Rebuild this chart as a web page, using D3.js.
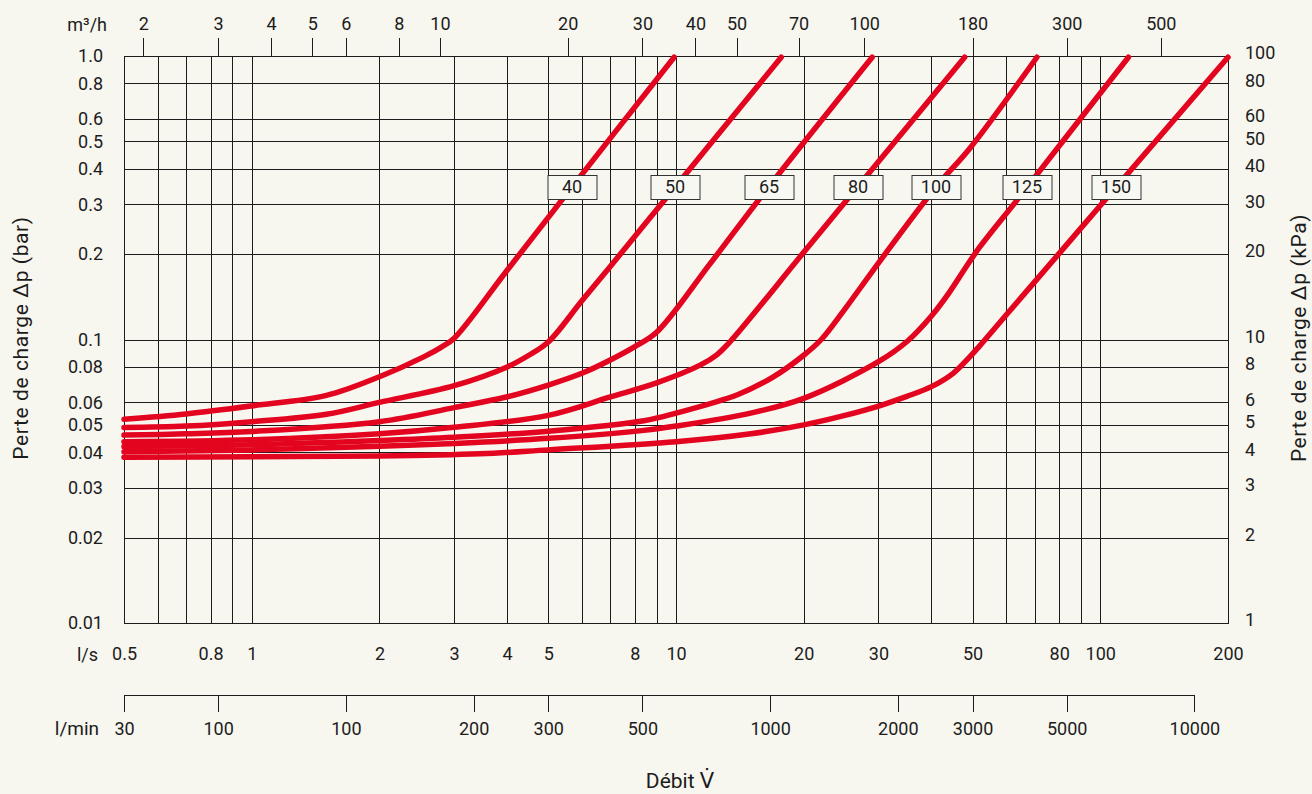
<!DOCTYPE html>
<html>
<head>
<meta charset="utf-8">
<script src="https://cdn.jsdelivr.net/npm/d3@7/dist/d3.min.js"></script>
<style>
	body{margin:0;background:#f7f6ef;}
	svg{display:block;}
	text{font-family:Roboto,"DejaVu Sans",sans-serif;font-weight:400;fill:#1c1c1c;}
</style>
</head>
<body>
<div id="chart"></div>
<script>
// flow l/s (bottom), pressure drop bar (left)
var lsTicks=[0.5,0.8,1,2,3,4,5,8,10,20,30,50,80,100,200];
var lsGrid=[0.6,0.7,0.8,0.9,1,2,3,4,5,6,7,8,9,10,20,30,40,50,60,70,80,90,100];
var barTicks=[1.0,0.8,0.6,0.5,0.4,0.3,0.2,0.1,0.08,0.06,0.05,0.04,0.03,0.02,0.01];
var barLabels=["1.0","0.8","0.6","0.5","0.4","0.3","0.2","0.1","0.08","0.06","0.05","0.04","0.03","0.02","0.01"];
var kpaLabels=["100","80","60","50","40","30","20","10","8","6","5","4","3","2","1"];
var m3hTicks=[2,3,4,5,6,8,10,20,30,40,50,70,100,180,300,500];
var lminTicks=[30,50,100,200,300,500,1000,2000,3000,5000,10000];
var lminLabels=["30","100","100","200","300","500","1000","2000","3000","5000","10000"];

// DN curves, [l/s, bar]
var dnNames=["40","50","65","80","100","125","150"];
var dn40=[[0.5,0.0523],[0.7,0.0546],[1,0.0583],[1.5,0.0635],[2,0.0739],[2.55,0.087],[2.8,0.094],[3.0,0.101],[4,0.1755],[5.66,0.342],[9.9,0.99]];
var dn50=[[0.5,0.0489],[0.7,0.0495],[1,0.0513],[1.5,0.0545],[2,0.06],[3,0.0687],[4,0.08],[4.5,0.088],[5,0.098],[6,0.137],[7,0.181],[9,0.287],[17.7,0.99]];
var dn65=[[0.5,0.046],[0.7,0.0465],[1,0.0474],[2,0.0513],[3,0.0575],[4,0.0628],[5,0.0691],[6,0.076],[7,0.0847],[8,0.0944],[9,0.106],[12,0.184],[16.4,0.34],[29,0.99]];
var dn80=[[0.5,0.0436],[1,0.0443],[2,0.0465],[3,0.049],[5,0.054],[7,0.0627],[9,0.0703],[11.4,0.0812],[12.5,0.0885],[13.4,0.098],[20,0.203],[27.08,0.352],[47.9,0.99]];
var dn100=[[0.5,0.0419],[1,0.0425],[2,0.044],[3,0.0452],[5,0.0475],[8.4,0.0517],[10,0.055],[14,0.064],[17,0.074],[20,0.088],[22,0.1],[25,0.128],[30,0.186],[41,0.345],[49.4,0.475],[70.9,0.99]];
var dn125=[[0.5,0.0402],[1,0.0408],[2,0.042],[3,0.043],[5,0.0448],[8.4,0.0478],[10,0.0495],[15,0.055],[20,0.062],[30,0.0835],[35.2,0.099],[40,0.121],[44,0.146],[48,0.178],[52,0.212],[63.5,0.309],[78.9,0.469],[116.5,0.99]];
var dn150=[[0.5,0.0384],[1,0.0386],[2,0.0388],[3.45,0.0395],[5,0.0408],[10,0.0436],[15,0.0465],[20,0.05],[25,0.054],[30.3,0.0585],[35,0.063],[40,0.0682],[45,0.076],[49.3,0.087],[51.8,0.0944],[60,0.122],[80.6,0.2038],[103.5,0.315],[200,0.99]];
var dnCurves=[dn40,dn50,dn65,dn80,dn100,dn125,dn150];
var labelBar=0.345;

var width=1312,height=794;
var pL=124,pR=1228,pT=56,pB=623;
var red="#e3051f";
var ink="#1c1c1c";

var svg=d3.select("#chart")
	.append("svg")
	.attr("width",width)
	.attr("height",height);

var x=d3.scaleLog().domain([0.5,200]).range([pL,pR]);
var y=d3.scaleLog().domain([0.01,1]).range([pB,pT]);
// same axes in other units
var xm3h=d3.scaleLog().domain([0.5*3.6,200*3.6]).range([pL,pR]);
var xlmin=d3.scaleLog().domain([0.5*60,200*60]).range([pL,pR]);
var ykpa=d3.scaleLog().domain([1,100]).range([pB,pT]);

//grid
var grid=svg.append("g")
	.attr("stroke",ink)
	.attr("stroke-width",1)
	.attr("shape-rendering","crispEdges");
grid.selectAll(".vg")
	.data(lsGrid)
	.enter()
	.append("line")
		.attr("class","vg")
		.attr("x1",function(d){return Math.round(x(d))+0.5;})
		.attr("x2",function(d){return Math.round(x(d))+0.5;})
		.attr("y1",pT)
		.attr("y2",pB);
grid.selectAll(".hg")
	.data(barTicks)
	.enter()
	.append("line")
		.attr("class","hg")
		.attr("x1",pL)
		.attr("x2",pR)
		.attr("y1",function(d){return Math.round(y(d))+0.5;})
		.attr("y2",function(d){return Math.round(y(d))+0.5;});
grid.append("rect")
	.attr("x",pL+0.5)
	.attr("y",pT+0.5)
	.attr("width",pR-pL)
	.attr("height",pB-pT)
	.attr("fill","none");

function styleAxis(g){
	g.attr("font-family",null).attr("font-size",18);
	g.selectAll("text").attr("fill",ink);
	g.selectAll("line").attr("stroke",ink).attr("shape-rendering","crispEdges");
}

//top axis m3/h
svg.append("g")
	.attr("transform","translate(0,"+pT+")")
	.call(d3.axisTop(xm3h).tickValues(m3hTicks).tickFormat(function(d){return d;}).tickSize(18).tickPadding(8))
	.call(styleAxis)
	.select(".domain").remove();
svg.append("text")
	.attr("x",107)
	.attr("y",31)
	.attr("text-anchor","end")
	.style("font-size","18px")
	.text("m³/h");

//left axis bar
svg.append("g")
	.attr("transform","translate("+pL+",0)")
	.call(d3.axisLeft(y).tickValues(barTicks).tickFormat(function(d,i){return barLabels[i];}).tickSize(0).tickPadding(21))
	.call(styleAxis)
	.select(".domain").remove();

//right axis kPa
svg.append("g")
	.attr("transform","translate("+pR+",-3)")
	.call(d3.axisRight(ykpa).tickValues(barTicks.map(function(d){return d*100;})).tickFormat(function(d,i){return kpaLabels[i];}).tickSize(0).tickPadding(17))
	.call(styleAxis)
	.select(".domain").remove();

//bottom l/s
svg.append("g")
	.attr("transform","translate(0,"+pB+")")
	.call(d3.axisBottom(x).tickValues(lsTicks).tickFormat(function(d){return d;}).tickSize(0).tickPadding(24))
	.call(styleAxis)
	.select(".domain").remove();
svg.append("text")
	.attr("x",98)
	.attr("y",661)
	.attr("text-anchor","end")
	.style("font-size","18px")
	.text("l/s");

//bottom l/min
var lminY=695;
svg.append("g")
	.attr("transform","translate(0,"+lminY+")")
	.call(d3.axisBottom(xlmin).tickValues(lminTicks).tickFormat(function(d,i){return lminLabels[i];}).tickSize(17).tickPadding(10))
	.call(styleAxis)
	.select(".domain").remove();
svg.append("line")
	.attr("x1",xlmin(lminTicks[0]))
	.attr("x2",xlmin(lminTicks[lminTicks.length-1]))
	.attr("y1",lminY+0.5)
	.attr("y2",lminY+0.5)
	.attr("stroke",ink)
	.attr("shape-rendering","crispEdges");
svg.append("text")
	.attr("x",99)
	.attr("y",735)
	.attr("text-anchor","end")
	.style("font-size","19px")
	.text("l/min");

//axis titles
svg.append("text")
	.attr("x",680)
	.attr("y",788)
	.attr("text-anchor","middle")
	.style("font-size","21px")
	.text("Débit V\u0307");
svg.append("text")
	.attr("transform","translate(28,338) rotate(-90)")
	.attr("text-anchor","middle")
	.style("font-size","21px")
	.style("letter-spacing","0.6px")
	.text("Perte de charge Δp (bar)");
svg.append("text")
	.attr("transform","translate(1306,338) rotate(-90)")
	.attr("text-anchor","middle")
	.style("font-size","21px")
	.style("letter-spacing","0.6px")
	.text("Perte de charge Δp (kPa)");

//curves
var line=d3.line()
	.x(function(d){return x(d[0]);})
	.y(function(d){return y(d[1]);})
	.curve(d3.curveCatmullRom.alpha(0.5));
svg.append("g")
	.selectAll("path")
	.data(dnCurves)
	.enter()
	.append("path")
		.attr("d",line)
		.attr("fill","none")
		.attr("stroke",red)
		.attr("stroke-width",5.5)
		.attr("stroke-linecap","round")
		.attr("stroke-linejoin","round");

//labels where each curve crosses labelBar
function crossAt(pts,v){
	for(var i=1;i<pts.length;i++){
		if(pts[i][1]>=v){
			var a=pts[i-1],b=pts[i];
			var t=(Math.log(v)-Math.log(a[1]))/(Math.log(b[1])-Math.log(a[1]));
			return Math.exp(Math.log(a[0])+t*(Math.log(b[0])-Math.log(a[0])));
		}
	}
	return pts[pts.length-1][0];
}
var boxW=49,boxH=24;
var labs=svg.append("g")
	.selectAll("g")
	.data(dnNames)
	.enter()
	.append("g")
	.attr("transform",function(d,i){
		return "translate("+Math.round(x(crossAt(dnCurves[i],labelBar)))+","+Math.round(y(labelBar))+")";
	});
labs.append("rect")
	.attr("x",-boxW/2+0.5)
	.attr("y",-boxH/2+0.5)
	.attr("width",boxW)
	.attr("height",boxH)
	.attr("fill","#f8f8f3")
	.attr("stroke","#333")
	.attr("stroke-width",1);
labs.append("text")
	.attr("text-anchor","middle")
	.attr("dy","0.36em")
	.style("font-size","18px")
	.text(function(d){return d;});
</script>
</body>
</html>
